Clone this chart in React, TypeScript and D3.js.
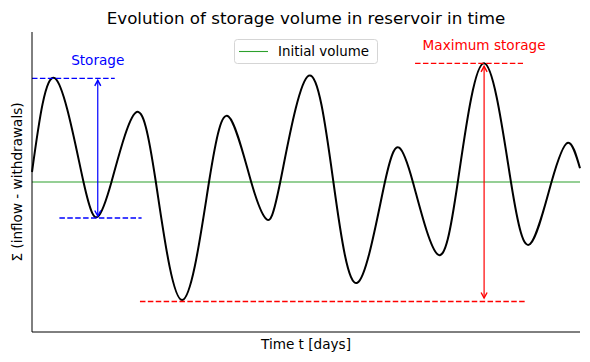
import * as d3 from 'd3'

// time axis (days) and cumulative storage relative to initial volume
const days = [0, 4.2, 9.4, 12.0, 14.5, 18.9, 22.6, 27.4, 32.3, 35.9, 40.0, 42.8, 45.3, 50.5, 55.0, 59.4, 64.4, 67.0, 69.5, 74.0, 77.7, 82.5, 87.4, 90.9, 94.8, 97.8, 100]
const volume = [10, 103.7, 0, -34.7, 0, 69.3, 0, -118, 0, 65.3, 0, -37.3, 0, 106.3, 0, -100.7, 0, 34.3, 0, -72.3, 0, 118.7, 0, -62, 0, 39.3, 13.7]

const initialVolume = 0
// storage annotation (blue)
const storageAt = 12.0
const storageTop = 103.7
const storageBottom = -36
const storageTopSpan = [0, 15.1]
const storageBottomSpan = [5.0, 20.0]
// maximum storage annotation (red)
const maxAt = 82.5
const maxTop = 118.7
const maxBottom = -118
const maxTopSpan = [69.9, 89.6]
const maxBottomSpan = [19.7, 90.0]

const W = 590
const H = 362
const margin = { top: 32, right: 10, bottom: 30, left: 32 }

export default function App() {
  const x = d3.scaleLinear().domain([0, 100]).range([margin.left, W - margin.right])
  const y = d3.scaleLinear().domain([-150, 150]).range([H - margin.bottom, margin.top])

  const pts = days.map((d, i) => [d, volume[i]] as [number, number])
  const line = d3.line<[number, number]>()
    .x(d => x(d[0]))
    .y(d => y(d[1]))
    .curve(d3.curveNatural)

  const font = 'DejaVu Sans, sans-serif'

  const arrowHead = (px: number, py: number, dir: number, color: string) => {
    // open arrowhead pointing up (dir=-1) or down (dir=1)
    const l = 5.5
    const w = 3
    return (
      <path
        d={`M${px - w},${py - dir * l} L${px},${py} L${px + w},${py - dir * l}`}
        fill="none"
        stroke={color}
        strokeWidth={1.4}
      />
    )
  }

  const dash = '5.5,2.4'

  return (
    <svg width={W} height={H} style={{ position: 'absolute', left: 0, top: 0, background: '#fff' }}>
      <text x={(x(0) + x(100)) / 2} y={24} textAnchor="middle" fontFamily={font} fontSize={16.7} fill="#000">
        Evolution of storage volume in reservoir in time
      </text>

      {/* initial volume line */}
      <line x1={x(0)} x2={x(100)} y1={y(initialVolume)} y2={y(initialVolume)} stroke="#2ca02c" strokeWidth={1.1} />

      {/* storage series */}
      <path d={line(pts) || ''} fill="none" stroke="#000" strokeWidth={2} />

      {/* storage annotation */}
      <line x1={x(storageTopSpan[0])} x2={x(storageTopSpan[1])} y1={y(storageTop)} y2={y(storageTop)} stroke="#0000ff" strokeWidth={1.3} strokeDasharray={dash} />
      <line x1={x(storageBottomSpan[0])} x2={x(storageBottomSpan[1])} y1={y(storageBottom)} y2={y(storageBottom)} stroke="#0000ff" strokeWidth={1.3} strokeDasharray={dash} />
      <line x1={x(storageAt)} x2={x(storageAt)} y1={y(storageTop) + 2} y2={y(storageBottom) - 2} stroke="#0000ff" strokeWidth={1.2} />
      {arrowHead(x(storageAt), y(storageTop) + 2, -1, '#0000ff')}
      {arrowHead(x(storageAt), y(storageBottom) - 2, 1, '#0000ff')}
      <text x={x(storageAt)} y={65} textAnchor="middle" fontFamily={font} fontSize={13.6} fill="#0000ff">Storage</text>

      {/* maximum storage annotation */}
      <line x1={x(maxTopSpan[0])} x2={x(maxTopSpan[1])} y1={y(maxTop)} y2={y(maxTop)} stroke="#ff0000" strokeWidth={1.3} strokeDasharray={dash} />
      <line x1={x(maxBottomSpan[0])} x2={x(maxBottomSpan[1])} y1={y(maxBottom) + 1.5} y2={y(maxBottom) + 1.5} stroke="#ff0000" strokeWidth={1.3} strokeDasharray={dash} />
      <line x1={x(maxAt)} x2={x(maxAt)} y1={y(maxTop) + 3} y2={y(maxBottom) - 2} stroke="#ff0000" strokeWidth={1.2} />
      {arrowHead(x(maxAt), y(maxTop) + 3, -1, '#ff0000')}
      {arrowHead(x(maxAt), y(maxBottom) - 2, 1, '#ff0000')}
      <text x={x(maxAt)} y={50} textAnchor="middle" fontFamily={font} fontSize={13.6} fill="#ff0000">Maximum storage</text>

      {/* spines */}
      <line x1={x(0)} x2={x(0)} y1={margin.top} y2={H - margin.bottom} stroke="#000" strokeWidth={1} />
      <line x1={x(0)} x2={x(100)} y1={H - margin.bottom} y2={H - margin.bottom} stroke="#000" strokeWidth={1} />

      {/* legend */}
      <rect x={234.5} y={39.5} width={143} height={24} rx={3} fill="#fff" fillOpacity={0.8} stroke="#d5d5d5" strokeWidth={1} />
      <line x1={239} x2={268} y1={51.5} y2={51.5} stroke="#2ca02c" strokeWidth={1.1} />
      <text x={278} y={56} fontFamily={font} fontSize={13.4} fill="#000">Initial volume</text>

      {/* axis labels */}
      <text x={(x(0) + x(100)) / 2} y={349} textAnchor="middle" fontFamily={font} fontSize={13.6} fill="#000">Time t [days]</text>
      <text transform={`translate(22,${y(0)}) rotate(-90)`} textAnchor="middle" fontFamily={font} fontSize={13.6} fill="#000">
        Σ (inflow - withdrawals)
      </text>
    </svg>
  )
}
